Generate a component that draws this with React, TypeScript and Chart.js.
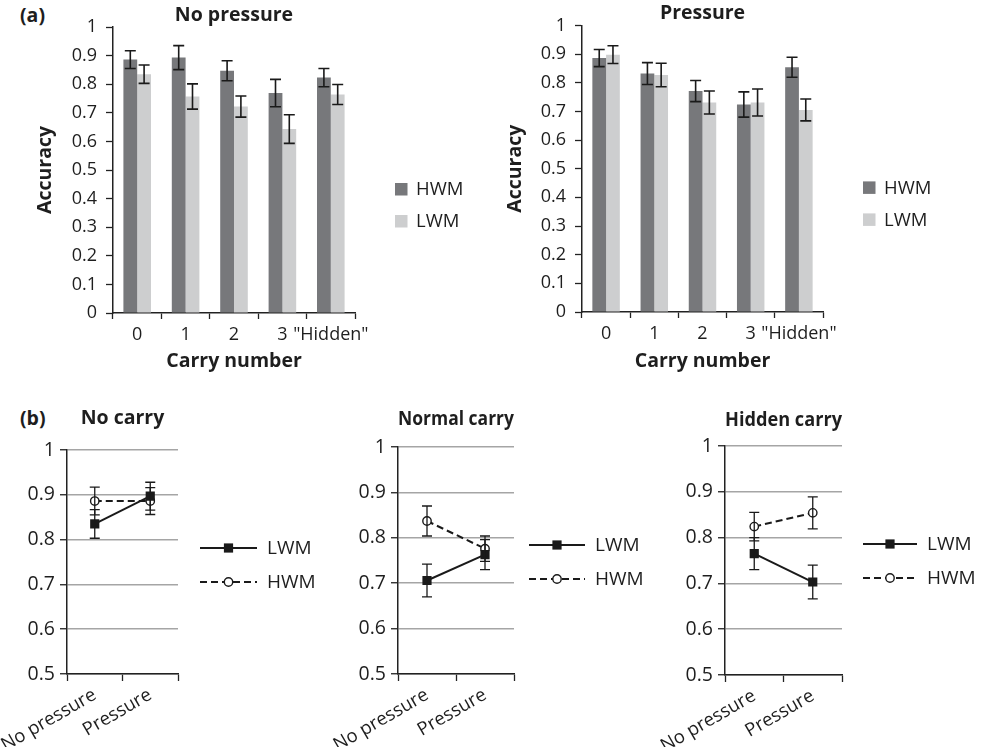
import React, { useEffect, useRef } from 'react';
import { Chart, registerables } from 'chart.js';

Chart.register(...registerables);

const FONT = "'Open Sans', 'DejaVu Sans', sans-serif";
const INK = '#1e1e1e';
const LINE = '#1a1a1a';
const DARK = '#77787b';
const LIGHT = '#cdcecf';

// ---- (a) bar charts ----
const carryLabels = ['0', '1', '2', '3', '"Hidden"'];

const noPressureHWM = [0.886, 0.893, 0.847, 0.769, 0.823];
const noPressureHWMErr = [0.031, 0.042, 0.035, 0.048, 0.032];
const noPressureLWM = [0.835, 0.757, 0.722, 0.643, 0.764];
const noPressureLWMErr = [0.032, 0.044, 0.037, 0.05, 0.035];

const pressureHWM = [0.886, 0.832, 0.771, 0.724, 0.854];
const pressureHWMErr = [0.03, 0.038, 0.037, 0.044, 0.035];
const pressureLWM = [0.898, 0.827, 0.731, 0.731, 0.705];
const pressureLWMErr = [0.031, 0.041, 0.04, 0.047, 0.038];

// ---- (b) line charts ----
const conditionLabels = ['No pressure', 'Pressure'];

const noCarryLWM = [0.835, 0.897];
const noCarryLWMErr = [0.032, 0.031];
const noCarryHWM = [0.886, 0.886];
const noCarryHWMErr = [0.031, 0.03];

const normalCarryLWM = [0.706, 0.763];
const normalCarryLWMErr = [0.036, 0.033];
const normalCarryHWM = [0.837, 0.776];
const normalCarryHWMErr = [0.033, 0.028];

const hiddenCarryLWM = [0.765, 0.703];
const hiddenCarryLWMErr = [0.035, 0.037];
const hiddenCarryHWM = [0.824, 0.854];
const hiddenCarryHWMErr = [0.031, 0.035];

const fmt = (v: any) => String(Math.round(Number(v) * 10) / 10);

const errorBarPlugin = {
  id: 'errorBars',
  afterDatasetsDraw(chart: any, _args: any, opts: any) {
    const { ctx } = chart;
    const y = chart.scales.y;
    chart.data.datasets.forEach((ds: any, i: number) => {
      const errs = ds.errors;
      if (!errs) return;
      const meta = chart.getDatasetMeta(i);
      meta.data.forEach((el: any, j: number) => {
        const v = ds.data[j];
        const e = errs[j];
        const x = el.x;
        const yt = y.getPixelForValue(v + e);
        const yb = y.getPixelForValue(v - e);
        ctx.save();
        ctx.strokeStyle = opts.color;
        ctx.lineWidth = opts.width;
        ctx.setLineDash([]);
        ctx.beginPath();
        ctx.moveTo(x, yt);
        ctx.lineTo(x, yb);
        ctx.moveTo(x - opts.cap, yt);
        ctx.lineTo(x + opts.cap, yt);
        ctx.moveTo(x - opts.cap, yb);
        ctx.lineTo(x + opts.cap, yb);
        ctx.stroke();
        ctx.restore();
      });
    });
  },
};

const boxLegendPlugin = {
  id: 'boxLegend',
  afterDraw(chart: any, _args: any, opts: any) {
    const { ctx, chartArea } = chart;
    chart.data.datasets.forEach((ds: any, k: number) => {
      const x = chartArea.right + opts.dx;
      const cy = chartArea.top + opts.dy[k];
      ctx.save();
      ctx.fillStyle = ds.backgroundColor;
      ctx.fillRect(x, cy - 6, 12.5, 12.5);
      ctx.fillStyle = INK;
      ctx.font = `18.5px ${FONT}`;
      ctx.textBaseline = 'middle';
      ctx.textAlign = 'left';
      ctx.fillText(ds.label, x + 21, cy + 1);
      ctx.restore();
    });
  },
};

const lineLegendPlugin = {
  id: 'lineLegend',
  afterDraw(chart: any, _args: any, opts: any) {
    const { ctx, chartArea } = chart;
    chart.data.datasets.forEach((ds: any, k: number) => {
      const x0 = chartArea.right + opts.dx;
      const x1 = chartArea.right + opts.tx - 10;
      const cy = chartArea.top + opts.dy[k];
      const mx = (x0 + x1) / 2;
      ctx.save();
      ctx.strokeStyle = ds.borderColor;
      ctx.lineWidth = ds.borderWidth;
      ctx.setLineDash(ds.borderDash || []);
      ctx.beginPath();
      ctx.moveTo(x0, cy);
      ctx.lineTo(x1, cy);
      ctx.stroke();
      ctx.setLineDash([]);
      if (ds.pointStyle === 'rect') {
        ctx.fillStyle = ds.pointBackgroundColor;
        ctx.fillRect(mx - 4.6, cy - 4.6, 9.2, 9.2);
      } else {
        ctx.beginPath();
        ctx.arc(mx, cy, ds.pointRadius, 0, Math.PI * 2);
        ctx.fillStyle = ds.pointBackgroundColor;
        ctx.fill();
        ctx.lineWidth = ds.pointBorderWidth;
        ctx.strokeStyle = ds.pointBorderColor;
        ctx.stroke();
      }
      ctx.fillStyle = INK;
      ctx.font = `19px ${FONT}`;
      ctx.textBaseline = 'middle';
      ctx.textAlign = 'left';
      ctx.fillText(ds.label, chartArea.right + opts.tx, cy + 1);
      ctx.restore();
    });
  },
};

type BarLayout = { yw: number; xh: number; padRight: number; tp: number; tb: number };

function barConfig(title: string, hwm: number[], hwmErr: number[], lwm: number[], lwmErr: number[], L: BarLayout): any {
  return {
    type: 'bar',
    data: {
      labels: carryLabels,
      datasets: [
        { label: 'HWM', data: hwm, errors: hwmErr, backgroundColor: DARK, borderWidth: 0, categoryPercentage: 0.57, barPercentage: 1 },
        { label: 'LWM', data: lwm, errors: lwmErr, backgroundColor: LIGHT, borderWidth: 0, categoryPercentage: 0.57, barPercentage: 1 },
      ],
    },
    options: {
      responsive: false,
      animation: false,
      layout: { padding: { left: 0, top: 0, right: L.padRight, bottom: 0 }, autoPadding: false },
      plugins: {
        legend: { display: false },
        tooltip: { enabled: false },
        title: {
          display: true,
          text: title,
          fullSize: false,
          color: INK,
          font: { family: FONT, size: 19.5, weight: 'bold', lineHeight: 1.2 },
          padding: { top: L.tp, bottom: L.tb },
        },
        errorBars: { color: LINE, width: 1.6, cap: 5.5 },
        boxLegend: { dx: 40, dy: [162, 194] },
      },
      scales: {
        x: {
          grid: { display: true, drawOnChartArea: false, drawTicks: true, tickLength: 6, tickColor: '#222', tickWidth: 1.3, offset: true },
          border: { display: true, color: '#222', width: 1.5 },
          ticks: { font: { family: FONT, size: 18 }, color: INK, padding: 5, maxRotation: 0, minRotation: 0, autoSkip: false },
          title: {
            display: true,
            text: 'Carry number',
            color: INK,
            font: { family: FONT, size: 19.5, weight: 'bold', lineHeight: 1.2 },
            padding: { top: 0, bottom: 1.6 },
          },
          afterFit: (s: any) => {
            s.height = L.xh;
            s.paddingLeft = 0;
            s.paddingRight = 0;
          },
        },
        y: {
          min: 0,
          max: 1,
          grid: { display: true, drawOnChartArea: false, drawTicks: true, tickLength: 7, tickColor: '#222', tickWidth: 1.3 },
          border: { display: true, color: '#222', width: 1.5 },
          ticks: { stepSize: 0.1, font: { family: FONT, size: 18 }, color: INK, padding: 9, callback: fmt },
          title: {
            display: true,
            text: 'Accuracy',
            color: INK,
            font: { family: FONT, size: 19.5, weight: 'bold', lineHeight: 1.2 },
            padding: { top: 33.3, bottom: 0 },
          },
          afterFit: (s: any) => {
            s.width = L.yw;
            s.paddingTop = 0;
            s.paddingBottom = 0;
          },
        },
      },
    },
    plugins: [errorBarPlugin, boxLegendPlugin],
  };
}

type LineLayout = { yw: number; xh: number; padRight: number; tp: number; tb: number; dx: number; tx: number };

function lineConfig(title: string, lwm: number[], lwmErr: number[], hwm: number[], hwmErr: number[], L: LineLayout): any {
  return {
    type: 'line',
    data: {
      labels: conditionLabels,
      datasets: [
        {
          label: 'LWM',
          data: lwm,
          errors: lwmErr,
          borderColor: LINE,
          borderWidth: 2,
          pointStyle: 'rect',
          pointRadius: 6.5,
          pointBackgroundColor: LINE,
          pointBorderColor: LINE,
          pointBorderWidth: 0,
          fill: false,
          tension: 0,
        },
        {
          label: 'HWM',
          data: hwm,
          errors: hwmErr,
          borderColor: LINE,
          borderWidth: 2,
          borderDash: [7, 4],
          pointStyle: 'circle',
          pointRadius: 4.2,
          pointBackgroundColor: '#ffffff',
          pointBorderColor: LINE,
          pointBorderWidth: 1.4,
          fill: false,
          tension: 0,
        },
      ],
    },
    options: {
      responsive: false,
      animation: false,
      layout: { padding: { left: 0, top: 0, right: L.padRight, bottom: 0 }, autoPadding: false },
      plugins: {
        legend: { display: false },
        tooltip: { enabled: false },
        title: {
          display: true,
          text: title,
          fullSize: false,
          color: INK,
          font: { family: FONT, size: 19.5, weight: 'bold', lineHeight: 1.2 },
          padding: { top: L.tp, bottom: L.tb },
        },
        errorBars: { color: LINE, width: 1.3, cap: 5 },
        lineLegend: { dx: L.dx, tx: L.tx, dy: [98, 132] },
      },
      scales: {
        x: {
          offset: true,
          grid: { display: true, drawOnChartArea: false, drawTicks: true, tickLength: 7, tickColor: '#222', tickWidth: 1.3, offset: true },
          border: { display: true, color: '#222', width: 1.5 },
          ticks: { font: { family: FONT, size: 18.5 }, color: INK, padding: 3, maxRotation: 30, minRotation: 30, autoSkip: false },
          afterFit: (s: any) => {
            s.height = L.xh;
            s.paddingLeft = 0;
            s.paddingRight = 0;
          },
        },
        y: {
          min: 0.5,
          max: 1,
          grid: { display: true, drawOnChartArea: true, color: '#a5a5a5', lineWidth: 1.5, drawTicks: true, tickLength: 7, tickColor: '#222', tickWidth: 1.3 },
          border: { display: true, color: '#222', width: 1.5 },
          ticks: { stepSize: 0.1, font: { family: FONT, size: 19.5 }, color: INK, padding: 5, callback: fmt },
          afterFit: (s: any) => {
            s.width = L.yw;
            s.paddingTop = 0;
            s.paddingBottom = 0;
          },
        },
      },
    },
    plugins: [errorBarPlugin, lineLegendPlugin],
  };
}

function ChartBox({ left, top, width, height, config }: { left: number; top: number; width: number; height: number; config: any }) {
  const ref = useRef<HTMLCanvasElement | null>(null);
  useEffect(() => {
    if (!ref.current) return;
    const chart = new Chart(ref.current, config);
    return () => chart.destroy();
  }, [config]);
  return (
    <div style={{ position: 'absolute', left, top, width, height }}>
      <canvas ref={ref} width={width} height={height} style={{ width, height, display: 'block' }} />
    </div>
  );
}

const cfgNoPressure = barConfig('No pressure', noPressureHWM, noPressureHWMErr, noPressureLWM, noPressureLWMErr, {
  yw: 113, xh: 62, padRight: 121, tp: 3.3, tb: 0.3,
});
const cfgPressure = barConfig('Pressure', pressureHWM, pressureHWMErr, pressureLWM, pressureLWMErr, {
  yw: 112, xh: 63, padRight: 127, tp: 2, tb: 0,
});
const cfgNoCarry = lineConfig('No carry', noCarryLWM, noCarryLWMErr, noCarryHWM, noCarryHWMErr, {
  yw: 67, xh: 73, padRight: 152, tp: 26.3, tb: 20.3, dx: 22, tx: 89,
});
const cfgNormalCarry = lineConfig('Normal carry', normalCarryLWM, normalCarryLWMErr, normalCarryHWM, normalCarryHWMErr, {
  yw: 68, xh: 73, padRight: 136, tp: 27.3, tb: 16.3, dx: 15, tx: 81,
});
const cfgHiddenCarry = lineConfig('Hidden carry', hiddenCarryLWM, hiddenCarryLWMErr, hiddenCarryHWM, hiddenCarryHWMErr, {
  yw: 75, xh: 72, padRight: 139, tp: 28.3, tb: 14.3, dx: 21, tx: 85,
});

const panelLabel: React.CSSProperties = {
  position: 'absolute',
  left: 20,
  fontFamily: FONT,
  fontWeight: 'bold',
  fontSize: 19.5,
  lineHeight: '22px',
  color: INK,
};

export default function App() {
  return (
    <div style={{ position: 'fixed', left: 0, top: 0, width: 981, height: 747, background: '#ffffff', overflow: 'hidden' }}>
      <div style={{ ...panelLabel, top: 4 }}>(a)</div>
      <div style={{ ...panelLabel, top: 407 }}>(b)</div>
      <ChartBox left={0} top={0} width={476} height={375} config={cfgNoPressure} />
      <ChartBox left={470} top={0} width={480} height={375} config={cfgPressure} />
      <ChartBox left={0} top={380} width={330} height={367} config={cfgNoCarry} />
      <ChartBox left={330} top={380} width={320} height={367} config={cfgNormalCarry} />
      <ChartBox left={650} top={380} width={331} height={367} config={cfgHiddenCarry} />
    </div>
  );
}
